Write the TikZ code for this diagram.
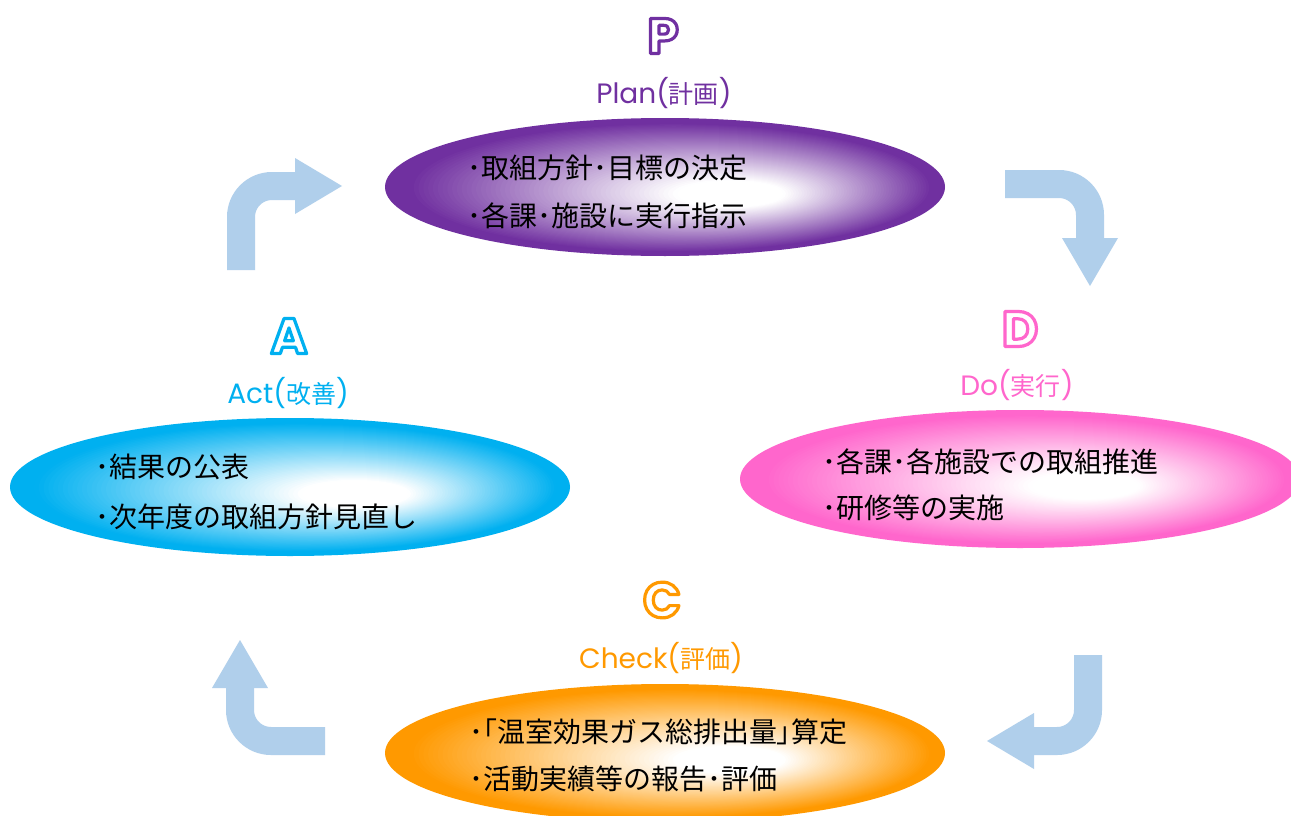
\documentclass[tikz,border=0pt]{standalone}
\usepackage{fontspec}
\setmainfont{Noto Sans CJK JP}
\newfontfamily\geo{Poppins}
\usetikzlibrary{shapes.geometric}
\definecolor{arrowblue}{RGB}{176,207,235}
\definecolor{cPurple}{RGB}{112,48,160}
\definecolor{cPink}{RGB}{255,102,204}
\definecolor{cOrange}{RGB}{255,153,0}
\definecolor{cBlue}{RGB}{0,176,240}
\tikzset{
  bendarrow/.style={draw=arrowblue, line width=28pt, rounded corners=31pt},
  arrowhead/.style={fill=arrowblue},
  phase/.style={ellipse, minimum width=560pt, minimum height=138pt, inner sep=0pt},
  body/.style={anchor=west, inner sep=0pt, font=\fontsize{28}{30}\selectfont},
  lbl/.style={inner sep=0pt, font=\fontsize{25}{26}\selectfont},
  bigletter/.style={inner sep=0pt, text=white, font=\geo\bfseries\fontsize{50}{56}\selectfont}
}
% radial gradient ellipse: colour rim, white spot offset to the right
\newcommand\gradell[3]{%
  \foreach \i in {0,...,70}{%
    \pgfmathsetmacro\tt{\i/70}%
    \pgfmathsetmacro\pp{max(0,min(100,100*(0.86-\tt)/0.79))}%
    \fill[#3!\pp!white] ({#1+\tt*75},{#2+\tt*8}) ellipse [x radius={280*(1-0.93*\tt)}, y radius={69*(1-0.93*\tt)}];
  }%
}
% outlined letter: white fill, coloured stroke (PDF text render mode 2)
\newcommand\outl[2]{\special{pdf:literal direct #1 RG 3.2 w 1 j 2 Tr}#2\special{pdf:literal direct 0 Tr}}
\newcommand\lat[1]{{\geo\fontsize{28}{28}\selectfont #1}}
\begin{document}
\begin{tikzpicture}[x=1pt,y=-1pt]
\useasboundingbox (0,0) rectangle (1291,816);
\clip (0,0) rectangle (1291,816);
\fill[white] (0,0) rectangle (1291,816);

% arrows
\draw[bendarrow] (241,270) -- (241,186) -- (296,186);
\fill[arrowhead] (295,158) -- (342,186) -- (295,214) -- cycle;
\draw[bendarrow] (1005,184) -- (1090,184) -- (1090,239);
\fill[arrowhead] (1062,238) -- (1090,286) -- (1118,238) -- cycle;
\draw[bendarrow] (1088,655) -- (1088,741) -- (1033,741);
\fill[arrowhead] (1034,713) -- (987,741) -- (1034,769) -- cycle;
\draw[bendarrow] (325,741) -- (240,741) -- (240,687);
\fill[arrowhead] (212,688) -- (240,640) -- (268,688) -- cycle;

% ellipses
\gradell{665}{187}{cPurple}
\gradell{1020}{479}{cPink}
\gradell{665}{753}{cOrange}
\gradell{290}{487}{cBlue}
\node[phase] (plan) at (665,187) {};
\node[phase] (do) at (1020,479) {};
\node[phase] (check) at (665,753) {};
\node[phase] (act) at (290,487) {};

% body text
\node[body] (plan1) at (467,168) {･取組方針･目標の決定};
\node[body] (plan2) at (467,216) {･各課･施設に実行指示};
\node[body] (do1) at (822,462) {･各課･各施設での取組推進};
\node[body] (do2) at (822,508) {･研修等の実施};
\node[body] (check1) at (469,732) {･{\addfontfeature{RawFeature=+palt}「}温室効果ガス総排出量{\addfontfeature{RawFeature=+palt}」}算定};
\node[body] (check2) at (469,779) {･活動実績等の報告･評価};
\node[body] (act1) at (95,467) {･結果の公表};
\node[body] (act2) at (95,517) {･次年度の取組方針見直し};

% labels
\node[lbl, text=cPurple] (planlbl) at (664,93) {\lat{Plan(}計画\lat{)}};
\node[lbl, text=cPink] (dolbl) at (1017,385) {\lat{Do(}実行\lat{)}};
\node[lbl, text=cOrange] (checklbl) at (661,658) {\lat{Check(}評価\lat{)}};
\node[lbl, text=cBlue] (actlbl) at (288,393) {\lat{Act(}改善\lat{)}};

% big letters
\node[bigletter] (P) at (663,36) {\outl{0.44 0.19 0.63}{P}};
\node[bigletter] (D) at (1020,329) {\outl{1 0.4 0.8}{D}};
\node[bigletter] (C) at (662,600) {\outl{1 0.6 0}{C}};
\node[bigletter] (A) at (289,336) {\outl{0 0.69 0.94}{A}};
\end{tikzpicture}
\end{document}
